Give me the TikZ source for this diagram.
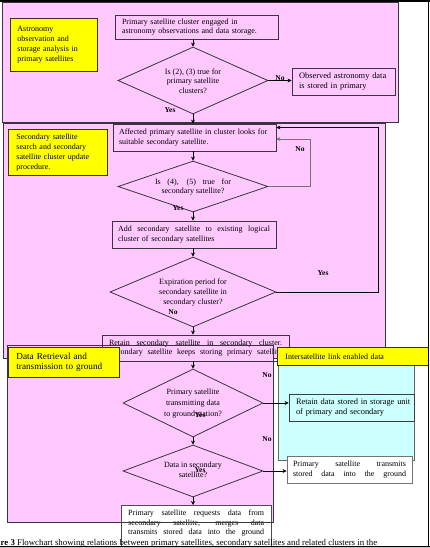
\documentclass[tikz,border=0pt]{standalone}
\usepackage{fontspec}
\setmainfont{Liberation Serif}
\usetikzlibrary{shapes.geometric,arrows.meta,shadows}
\definecolor{pinkbg}{HTML}{FFC8FF}
\definecolor{cyanbg}{HTML}{CCFFFF}
\definecolor{ybox}{HTML}{FFFF00}
\definecolor{bdr}{HTML}{3A3440}
\newcommand\boxfont{\fontsize{8}{9.5}\selectfont}
\newcommand\ylwfont{\fontsize{8}{10}\selectfont}
\newcommand\lblfont{\bfseries\fontsize{7.5}{9}\selectfont}
\newcommand\jline[2]{\leavevmode\hbox to #1{\spaceskip=0.25em plus 1fil\xspaceskip=0.25em plus 1fil\relax #2}}
\begin{document}
\begin{tikzpicture}[x=1pt,y=-1pt,
 region/.style={draw=bdr,line width=0.9pt,fill=pinkbg},
 box/.style={draw=bdr,line width=0.8pt,rectangle,inner ysep=0pt,font=\boxfont,align=left},
 ylw/.style={draw=black!80,fill=ybox,line width=0.8pt,rectangle,anchor=north west,inner ysep=0pt,font=\ylwfont,align=left,drop shadow={shadow xshift=1pt,shadow yshift=-1pt,fill=black!45}},
 dia/.style={draw=bdr,line width=0.8pt,diamond,inner sep=0pt},
 dtxt/.style={font=\boxfont,align=center,inner sep=0pt},
 lbl/.style={font=\lblfont,inner sep=0pt},
 conn/.style={draw=black,line width=0.7pt,-{Stealth[length=4pt,width=4pt]}}
]
\useasboundingbox (0,0) rectangle (430,548);
\fill[white] (0,0) rectangle (430,548);
% regions 1 and 2
\path[region] (2,2) rectangle (398,122);
\path[region] (3,123) rectangle (385,358);
% yellow boxes top
\node[ylw,minimum width=87,minimum height=53,inner xsep=7pt,text width=73pt] (y1) at (10,18) {Astronomy\\observation and\\storage analysis in\\primary satellites};
\node[ylw,minimum width=99,minimum height=46,inner xsep=8pt,text width=83pt] (y2) at (8,129) {Secondary satellite\\search and secondary\\satellite cluster update\\procedure.};
% upper flow
\node[box,minimum width=163,minimum height=24,inner xsep=7pt,text width=149pt] (b1) at (196.5,27) {Primary satellite cluster engaged in\\astronomy observations and data storage.};
\node[dia,minimum width=150,minimum height=67] (d1) at (193,80.5) {};
\node[dtxt] (d1t) at (193,81) {Is (2), (3) true for\\primary satellite\\clusters?};
\node[box,minimum width=103,minimum height=27,inner xsep=7pt,text width=89pt,font=\fontsize{8.4}{10}\selectfont] (obs) at (343.5,81.5) {\mbox{Observed astronomy data}\\\mbox{is stored in primary}};
\node[box,minimum width=163,minimum height=27,inner xsep=6pt,text width=151pt] (b2) at (194.5,137.5) {Affected primary satellite in cluster looks for\\suitable secondary satellite.};
\node[dia,minimum width=150,minimum height=51] (d2) at (193,186.5) {};
\node[dtxt] (d2t) at (193,187) {\jline{76pt}{Is (4), (5) true for}\\secondary satellite?};
\node[box,minimum width=164,minimum height=27,inner xsep=6pt,text width=152pt] (b3) at (194,234.5) {\jline{152pt}{Add secondary satellite to existing logical}\\cluster of secondary satellites};
\node[dia,minimum width=166,minimum height=70] (d3) at (193,292) {};
\node[dtxt,font=\fontsize{8}{10}\selectfont] (d3t) at (193,292.5) {Expiration period for\\secondary satellite in\\secondary cluster?};
% connectors upper
\draw[conn] (d1.north |- b1.south) -- (d1.north);
\draw[conn] (d1.east) -- (d1.east -| obs.west);
\draw[conn] (d1.south) -- (d1.south |- b2.north);
\draw[conn] (d2.north |- b2.south) -- (d2.north);
\draw[conn] (d2.south) -- (d2.south |- b3.north);
\draw[conn] (d3.north |- b3.south) -- (d3.north);
\coordinate (nlc) at (310,139);
\coordinate (ylc) at (378,127.5);
\draw[conn,draw=black!55] (d2.east) -| (nlc) -- (nlc -| b2.east);
\draw[conn] (d3.east) -| (ylc) -- (ylc -| b2.east);
\node[lbl] (l1) at (280,78) {No};
\node[lbl] (l2) at (170,110) {Yes};
\node[lbl] (l3) at (300,149) {No};
\node[lbl] (l4) at (178,208) {Yes};
\node[lbl] (l5) at (323,273) {Yes};
\node[lbl] (l6) at (173,312) {No};
% region 3
\fill[pinkbg] (7,345) rectangle (273,522);
\node[box,minimum width=187,minimum height=26,inner xsep=7pt,text width=173pt] (b4) at (195.5,348) {\jline{173pt}{Retain secondary satellite in secondary cluster.}\\\jline{173pt}{Secondary satellite keeps storing primary satellite}};
\draw[conn] (d3.south) -- (d3.south |- b4.north);
\node[dia,minimum width=140,minimum height=68] (d4) at (193,403) {};
\node[dtxt,font=\fontsize{8}{11}\selectfont] (d4t) at (193,404) {Primary satellite\\transmitting data\\to ground station?};
\node[dia,minimum width=140,minimum height=52] (d5) at (193,471) {};
\node[dtxt,font=\fontsize{8}{10}\selectfont] (d5t) at (193,470) {Data in secondary\\satellite?};
\node[box,draw=black!70,fill=white,anchor=north west,minimum width=150,minimum height=47] (bot) at (121,505) {};
\node[anchor=north west,inner xsep=7pt,inner ysep=0pt,text width=136pt,align=left,font=\fontsize{8}{9.5}\selectfont] (bott) at (121,510) {\jline{136pt}{Primary satellite requests data from}\\\jline{136pt}{secondary satellite, merges data}\\\jline{136pt}{transmits stored data into the ground}};
\draw[draw=bdr,line width=0.9pt] (7,345) rectangle (273,522);
\draw[conn] (d4.north |- b4.south) -- (d4.north);
\draw[conn] (d4.south) -- (d5.north);
\draw[conn] (d5.south) -- (d5.south |- bot.north);
% cyan region
\path[draw=black!60,line width=1pt,fill=cyanbg] (278,348) rectangle (414,460);
\node[box,draw=black!75!cyan!60!black,minimum width=125,minimum height=27,inner xsep=7pt,text width=111pt,font=\fontsize{8.4}{10}\selectfont] (ret) at (351.5,407.5) {\mbox{Retain data stored in storage unit}\\\mbox{of primary and secondary}};
\node[box,draw=black!55,fill=white,minimum width=125,minimum height=27,inner xsep=6pt,text width=113pt] (trans) at (349.5,469.5) {\jline{113pt}{Primary satellite transmits}\\\jline{113pt}{stored data into the ground}};
\draw[conn] (d4.east) -- (d4.east -| ret.west);
\draw[conn] (d5.east) -- (d5.east -| trans.west);
\node[lbl] (l7) at (267,375) {No};
\node[lbl] (l8) at (200,415) {Yes};
\node[lbl] (l9) at (267,439) {No};
\node[lbl] (l10) at (200,470) {Yes};
% yellow boxes lower
\node[ylw,minimum width=111,minimum height=30,inner xsep=8pt,text width=95pt,font=\fontsize{9.2}{10.5}\selectfont] (y3) at (8,347) {Data Retrieval and\\transmission to ground};
\node[ylw,minimum width=151,minimum height=18,inner xsep=8pt,text width=135pt,font=\fontsize{8}{9}\selectfont] (y4) at (277,347) {Intersatellite link enabled data};
% caption and frame
\node[anchor=base west,inner sep=0pt,font=\fontsize{8.8}{9}\selectfont] (cap) at (0.5,545.5) {\textbf{re 3} Flowchart showing relations between primary satellites, secondary satellites and related clusters in the};
\fill[gray!45] (0,546.5) rectangle (430,548);
\draw[black,line width=0.8pt] (0,546.3) -- (430,546.3);
\fill[black] (0,0) rectangle (430,1.8);
\draw[black,line width=1.2pt] (428.4,0) -- (428.4,546.3);
\end{tikzpicture}
\end{document}
